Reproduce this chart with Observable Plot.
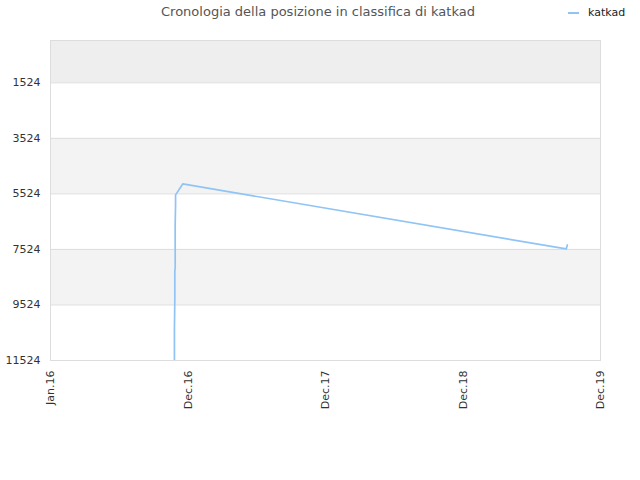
<!DOCTYPE html>
<html>
<head>
<meta charset="utf-8">
<script src="https://cdn.jsdelivr.net/npm/d3@7"></script>
<script src="https://cdn.jsdelivr.net/npm/@observablehq/plot@0.6"></script>
<style>
  body { margin: 0; background: #fff; font-family: "DejaVu Sans", sans-serif; }
  #wrap { position: relative; width: 640px; height: 480px; }
  #header { position: relative; height: 30px; }
  #title { position: absolute; left: 0; width: 636px; top: 4px; text-align: center; font-size: 13px; color: #555; }
  #legend { position: absolute; left: 568px; top: 6px; font-size: 11px; color: #222; display: flex; align-items: center; }
  #legend .sw { width: 11px; height: 2px; background: #90c4f5; margin-right: 9px; }
  svg { display: block; }
</style>
</head>
<body>
<div id="wrap">
  <div id="header">
    <div id="title">Cronologia della posizione in classifica di katkad</div>
    <div id="legend"><span class="sw"></span><span>katkad</span></div>
  </div>
  <div id="chart"></div>
</div>
<script>
const seriesName = "katkad";
const dates = ["2016-11-25","2016-11-25","2016-11-26","2016-11-26","2016-11-27","2016-11-27","2016-11-27","2016-11-28","2016-11-28","2016-12-17","2019-10-01","2019-10-04"];
const ranks = [11524, 10400, 9300, 8300, 8200, 7400, 6600, 5900, 5560, 5165, 7507, 7363];
const yTicks = [1524, 3524, 5524, 7524, 9524, 11524];
const xTickDates = ["2016-01-01","2016-12-31","2017-12-31","2018-12-31","2019-12-31"];
const xTickLabels = ["Jan.16","Dec.16","Dec.17","Dec.18","Dec.19"];
const bandStarts = [0, 3524, 7524];
const bandEnds = [1524, 5524, 9524];
const bandFills = ["#eeeeee", "#f3f3f3", "#f3f3f3"];

const data = dates.map((d, i) => ({date: new Date(d), rank: ranks[i]}));
const bands = bandStarts.map((s, i) => ({y1: s, y2: bandEnds[i], fill: bandFills[i]}));
const xt = xTickDates.map(d => new Date(d));
const labelFor = new Map(xt.map((d, i) => [+d, xTickLabels[i]]));

const chart = Plot.plot({
  width: 640,
  height: 450,
  marginTop: 10,
  marginBottom: 120,
  marginLeft: 50,
  marginRight: 40,
  style: {fontFamily: "DejaVu Sans", fontSize: "11px", color: "#333", background: "#fff"},
  x: {type: "time", domain: [xt[0], xt[xt.length - 1]], label: null},
  y: {domain: [0, 11524], reverse: true, label: null},
  marks: [
    Plot.rectY(bands, {x1: xt[0], x2: xt[xt.length - 1], y1: "y1", y2: "y2", fill: "fill"}),
    Plot.ruleY(yTicks, {stroke: "#dddddd", strokeWidth: 1}),
    Plot.frame({stroke: "#dddddd"}),
    Plot.line(data, {x: "date", y: "rank", stroke: "#90c4f5", strokeWidth: 1.7, clip: true}),
    Plot.axisX({ticks: xt, tickFormat: d => labelFor.get(+d), tickRotate: -90, tickSize: 0, tickPadding: 10, fill: "#333", label: null}),
    Plot.axisY({ticks: yTicks, tickFormat: d => String(d), tickSize: 0, tickPadding: 10, fill: "#333", label: null})
  ]
});
document.getElementById("chart").appendChild(chart);
</script>
</body>
</html>
